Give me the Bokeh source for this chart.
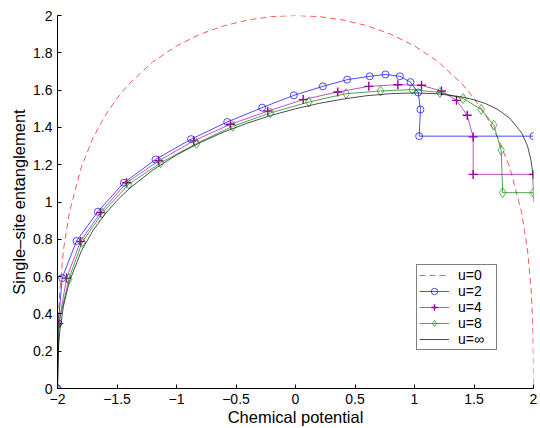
from bokeh.plotting import figure
from bokeh.models import Range1d, FixedTicker, Legend, LegendItem
from bokeh.embed import file_html
from bokeh.resources import INLINE

# ---- data ----
mu0 = [-2.0, -1.999, -1.995, -1.99, -1.98, -1.95, -1.9, -1.8, -1.7, -1.6, -1.5, -1.4,
       -1.2, -1.0, -0.8, -0.6, -0.4, -0.2, 0.0, 0.2, 0.4, 0.6, 0.8, 1.0, 1.2, 1.4,
       1.5, 1.6, 1.7, 1.8, 1.9, 1.95, 1.98, 1.99, 1.995, 1.999, 2.0]
E0 = [0.0, 0.162, 0.311, 0.407, 0.530, 0.742, 0.945, 1.187, 1.345, 1.463, 1.556, 1.633,
      1.751, 1.837, 1.900, 1.945, 1.976, 1.994, 2.0, 1.994, 1.976, 1.945, 1.900, 1.837,
      1.751, 1.633, 1.556, 1.463, 1.345, 1.187, 0.945, 0.742, 0.530, 0.407, 0.311, 0.162, 0.0]

mu2 = [-2.0, -1.993, -1.961, -1.840, -1.661, -1.443, -1.176, -0.877, -0.574, -0.280,
       -0.014, 0.230, 0.434, 0.624, 0.756, 0.877, 0.966, 1.031, 1.050, 1.039, 2.0]
E2 = [0.0, 0.350, 0.592, 0.791, 0.948, 1.103, 1.228, 1.337, 1.429, 1.506,
      1.572, 1.620, 1.656, 1.674, 1.684, 1.674, 1.643, 1.587, 1.496, 1.353, 1.353]

mu4 = [-2.0, -1.989, -1.924, -1.807, -1.639, -1.420, -1.149, -0.855, -0.546, -0.233,
       0.065, 0.355, 0.616, 0.860, 1.059, 1.227, 1.353, 1.443, 1.493, 1.493, 2.0]
E4 = [0.0, 0.348, 0.592, 0.788, 0.943, 1.103, 1.221, 1.328, 1.417, 1.487,
      1.549, 1.590, 1.620, 1.629, 1.626, 1.595, 1.545, 1.465, 1.349, 1.148, 1.148]

mu8 = [-2.0, -1.989, -1.905, -1.793, -1.624, -1.401, -1.134, -0.832, -0.527, -0.210,
       0.112, 0.426, 0.714, 0.980, 1.213, 1.409, 1.560, 1.667, 1.728, 1.741, 2.0]
E8 = [0.0, 0.348, 0.587, 0.784, 0.940, 1.096, 1.210, 1.314, 1.406, 1.478,
      1.536, 1.581, 1.595, 1.603, 1.587, 1.555, 1.497, 1.412, 1.278, 1.050, 1.050]

mu_inf = [-2.0, -1.999, -1.995, -1.99, -1.98, -1.95, -1.9, -1.8, -1.7, -1.6, -1.5, -1.4,
          -1.2, -1.0, -0.8, -0.6, -0.4, -0.2, 0.0, 0.2, 0.4, 0.6, 0.8, 1.0, 1.2, 1.4,
          1.5, 1.6, 1.7, 1.8, 1.9, 1.95, 1.98, 1.99, 1.995, 1.999, 2.0]
E_inf = [0.0, 0.091, 0.178, 0.235, 0.310, 0.442, 0.574, 0.737, 0.849, 0.936, 1.008, 1.070,
         1.171, 1.252, 1.319, 1.376, 1.424, 1.465, 1.500, 1.529, 1.552, 1.570, 1.581, 1.585,
         1.580, 1.563, 1.548, 1.527, 1.496, 1.450, 1.371, 1.300, 1.220, 1.172, 1.133, 1.071, 1.0]

x_ticks = [-2, -1.5, -1, -0.5, 0, 0.5, 1, 1.5, 2]
x_tick_labels = ["\u22122", "\u22121.5", "\u22121", "\u22120.5", "0", "0.5", "1", "1.5", "2"]
y_ticks = [0, 0.2, 0.4, 0.6, 0.8, 1, 1.2, 1.4, 1.6, 1.8, 2]
y_tick_labels = ["0", "0.2", "0.4", "0.6", "0.8", "1", "1.2", "1.4", "1.6", "1.8", "2"]

legend_labels = ["u=0", "u=2", "u=4", "u=8", "u=\u221e"]

FONT = "Liberation Sans"

p = figure(width=540, height=428, output_backend="svg", toolbar_location=None,
           x_range=Range1d(-2, 2), y_range=Range1d(0, 2),
           min_border_left=57, min_border_right=7, min_border_top=15, min_border_bottom=39)
p.outline_line_color = None
p.xgrid.visible = False
p.ygrid.visible = False
p.background_fill_color = "white"
p.border_fill_color = "white"

for ax in (p.xaxis[0], p.yaxis[0]):
    ax.axis_line_color = "black"
    ax.axis_line_width = 1
    ax.major_tick_in = 4
    ax.major_tick_out = 0
    ax.minor_tick_in = 0
    ax.minor_tick_out = 0
    ax.major_tick_line_color = "black"
    ax.major_label_text_font = FONT
    ax.major_label_text_font_size = "14px"
    ax.major_label_text_color = "black"
    ax.axis_label_text_font = FONT
    ax.axis_label_text_font_size = "16.5px"
    ax.axis_label_text_font_style = "normal"
    ax.axis_label_text_color = "black"

p.xaxis.ticker = FixedTicker(ticks=x_ticks)
p.yaxis.ticker = FixedTicker(ticks=y_ticks)
p.xaxis.major_label_overrides = {t: l for t, l in zip(x_ticks, x_tick_labels)}
p.yaxis.major_label_overrides = {t: l for t, l in zip(y_ticks, y_tick_labels)}
p.xaxis.axis_label = "Chemical potential"
p.yaxis.axis_label = "Single\u2013site entanglement"
p.xaxis.major_label_standoff = 5
p.yaxis.major_label_standoff = 5
p.xaxis.axis_label_standoff = 1
p.yaxis.axis_label_standoff = 2

r0 = p.line(mu0, E0, line_color="#f03030", line_width=0.8, line_dash="6 4")

r2l = p.line(mu2, E2, line_color="#0000ff", line_width=0.7)
r2m = p.scatter(mu2, E2, marker="circle", size=7, line_color="#0000ff",
                fill_color=None, line_width=0.7)

r4l = p.line(mu4, E4, line_color="#b000b0", line_width=0.7)
r4m = p.scatter(mu4, E4, marker="cross", size=9, line_color="#990099", line_width=1.4)

r8l = p.line(mu8, E8, line_color="#008000", line_width=0.7)
r8m = p.scatter(mu8, E8, marker="diamond", size=10, line_color="#119911",
                fill_color=None, line_width=0.7)

rinf = p.line(mu_inf, E_inf, line_color="#000000", line_width=0.7)

legend = Legend(items=[
    LegendItem(label=legend_labels[0], renderers=[r0]),
    LegendItem(label=legend_labels[1], renderers=[r2l, r2m]),
    LegendItem(label=legend_labels[2], renderers=[r4l, r4m]),
    LegendItem(label=legend_labels[3], renderers=[r8l, r8m]),
    LegendItem(label=legend_labels[4], renderers=[rinf]),
], location=(359, 38))
legend.label_text_font = FONT
legend.label_text_font_size = "14px"
legend.label_text_color = "black"
legend.border_line_color = "black"
legend.border_line_width = 1
legend.background_fill_color = "white"
legend.background_fill_alpha = 1
legend.padding = 2
legend.margin = 0
legend.spacing = 0
legend.glyph_height = 16
legend.label_height = 16
legend.glyph_width = 30
legend.label_standoff = 9
legend.label_width = 36
p.add_layout(legend, "center")

open("out.html", "w").write(file_html(p, INLINE))
